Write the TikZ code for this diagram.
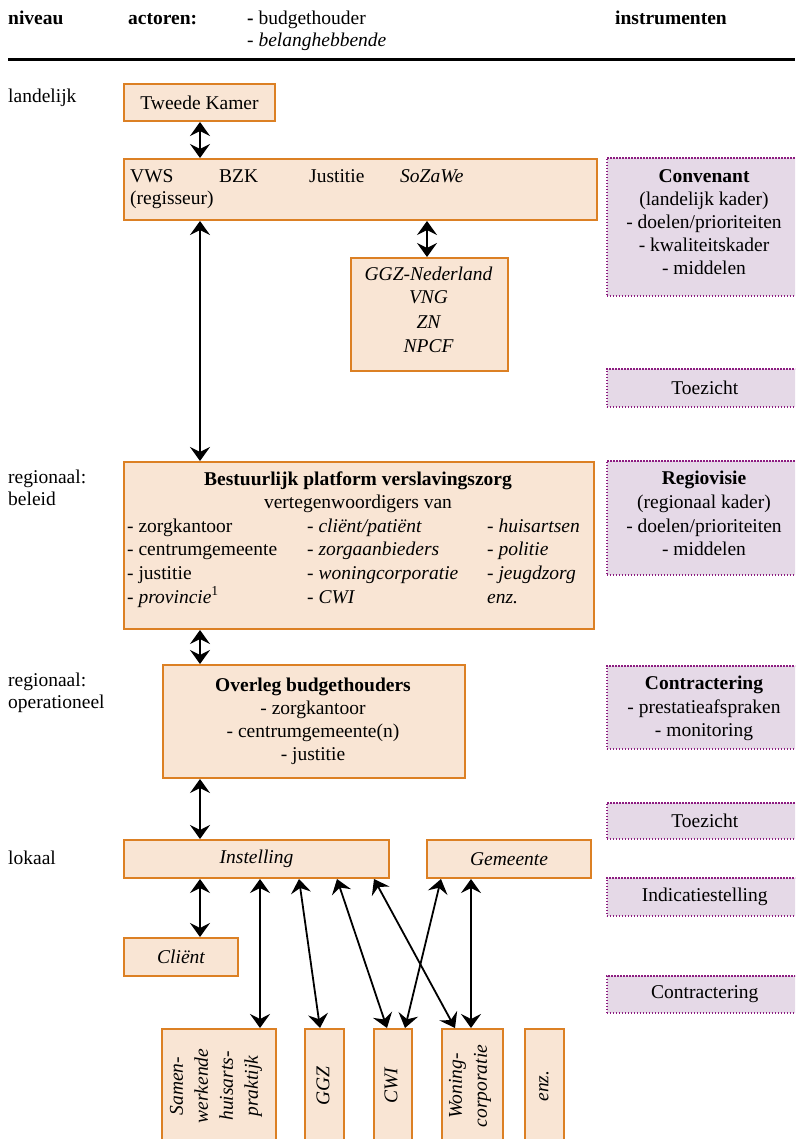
\documentclass[tikz,border=0pt]{standalone}
\usepackage{fontspec}
\setmainfont{Liberation Serif}
\usetikzlibrary{arrows.meta}
\definecolor{oline}{RGB}{220,128,36}
\definecolor{ofill}{RGB}{249,229,212}
\definecolor{pline}{RGB}{140,28,128}
\definecolor{pfill}{RGB}{229,217,231}
\begin{document}
\begin{tikzpicture}[x=1pt,y=-1pt,
 every node/.style={font=\fontsize{19.5}{23}\selectfont, inner sep=0pt},
 obox/.style={draw=oline, fill=ofill, line width=2pt, anchor=north west, inner sep=0pt},
 pbox/.style={draw=pline, fill=pfill, line width=1.6pt, dash pattern=on 1.6pt off 1.4pt, anchor=north west},
 txt/.style={anchor=base west},
 ctxt/.style={anchor=base},
 rtxt/.style={rotate=90, align=center, font=\itshape\fontsize{19.5}{25}\selectfont},
 dbl/.style={{Stealth[length=14pt,width=20pt,inset=5pt]}-{Stealth[length=14pt,width=20pt,inset=5pt]}, line width=1.8pt},
]
\useasboundingbox (0,0) rectangle (795,1139);
\clip (0,0) rectangle (795,1139);
\fill[white] (0,0) rectangle (795,1139);

% header
\node[txt] (h1) at (8,25) {\bfseries niveau};
\node[txt] (h2) at (128,25) {\bfseries actoren:};
\node[txt] (h3) at (247,25) {\textbf{-} budgethouder};
\node[txt] (h4) at (247,47) {\itshape - belanghebbende};
\node[txt] (h5) at (615,25) {\bfseries instrumenten};
\draw[line width=3pt] (8,60) -- (795,60);

% level labels
\node[txt] (l1) at (8,103) {landelijk};
\node[txt] (l2) at (8,483) {regionaal:};
\node[txt] (l3) at (8,505) {beleid};
\node[txt] (l4) at (8,686) {regionaal:};
\node[txt] (l5) at (8,708) {operationeel};
\node[txt] (l6) at (8,864) {lokaal};

% actor boxes
\node[obox, minimum width=151pt, minimum height=37pt] (tk) at (123,83) {Tweede Kamer};
\node[obox, minimum width=473pt, minimum height=61pt] (vws) at (123,158) {};
\node[obox, minimum width=157pt, minimum height=113pt] (ggz) at (350,257) {};
\node[obox, minimum width=470pt, minimum height=167pt] (bp) at (123,461) {};
\node[obox, minimum width=302pt, minimum height=113pt] (ob) at (162,664) {};
\node[obox, minimum width=265pt, minimum height=38pt] (inst) at (123,839) {\itshape Instelling};
\node[obox, minimum width=164pt, minimum height=38pt] (gem) at (426,839) {\itshape Gemeente};
\node[obox, minimum width=114pt, minimum height=38pt] (cli) at (123,937) {\itshape Cliënt};
\node[obox, minimum width=114pt, minimum height=130pt] (sam) at (161,1028) {};
\node[obox, minimum width=39pt, minimum height=130pt] (ggzb) at (304,1028) {};
\node[obox, minimum width=38pt, minimum height=130pt] (cwi) at (373,1028) {};
\node[obox, minimum width=61pt, minimum height=130pt] (won) at (441,1028) {};
\node[obox, minimum width=39pt, minimum height=130pt] (enz) at (524,1028) {};

% instrument boxes
\node[pbox, minimum width=196pt, minimum height=138pt] (conv) at (606,157) {};
\node[pbox, minimum width=196pt, minimum height=38pt] (toe1) at (606,368) {Toezicht};
\node[pbox, minimum width=196pt, minimum height=114pt] (reg) at (606,460) {};
\node[pbox, minimum width=196pt, minimum height=83pt] (con) at (606,665) {};
\node[pbox, minimum width=196pt, minimum height=36pt] (toe2) at (606,802) {Toezicht};
\node[pbox, minimum width=196pt, minimum height=38pt] (ind) at (606,877) {Indicatiestelling};
\node[pbox, minimum width=196pt, minimum height=37pt] (con2) at (606,975) {Contractering};

% VWS box text
\node[txt] (v1) at (130,183) {VWS};
\node[txt] (v2) at (219,183) {BZK};
\node[txt] (v3) at (309,183) {Justitie};
\node[txt] (v4) at (400,183) {\itshape SoZaWe};
\node[txt] (v5) at (130,205) {(regisseur)};

% GGZ box text
\node[ctxt] (g1) at (428.5,280) {\itshape GGZ-Nederland};
\node[ctxt] (g2) at (428.5,304) {\itshape VNG};
\node[ctxt] (g3) at (428.5,328) {\itshape ZN};
\node[ctxt] (g4) at (428.5,352) {\itshape NPCF};

% Bestuurlijk platform text
\node[ctxt] (b0) at (358,485) {\bfseries Bestuurlijk platform verslavingszorg};
\node[ctxt] (b1) at (358,508) {vertegenwoordigers van};
\node[txt] (b11) at (127,532) {- zorgkantoor};
\node[txt] (b12) at (127,555) {- centrumgemeente};
\node[txt] (b13) at (127,579) {- justitie};
\node[txt] (b14) at (127,603) {\itshape - provincie\textsuperscript{\upshape 1}};
\node[txt] (b21) at (307,532) {\itshape - cliënt/patiënt};
\node[txt] (b22) at (307,555) {\itshape - zorgaanbieders};
\node[txt] (b23) at (307,579) {\itshape - woningcorporatie};
\node[txt] (b24) at (307,603) {\itshape - CWI};
\node[txt] (b31) at (487,532) {\itshape - huisartsen};
\node[txt] (b32) at (487,555) {\itshape - politie};
\node[txt] (b33) at (487,579) {\itshape - jeugdzorg};
\node[txt] (b34) at (487,603) {\itshape enz.};

% Overleg budgethouders text
\node[ctxt] (o0) at (313,691) {\bfseries Overleg budgethouders};
\node[ctxt] (o1) at (313,714) {- zorgkantoor};
\node[ctxt] (o2) at (313,737) {- centrumgemeente(n)};
\node[ctxt] (o3) at (313,760) {- justitie};

% instrument texts
\node[ctxt] (c0) at (704,183) {\bfseries Convenant};
\node[ctxt] (c1) at (704,206) {(landelijk kader)};
\node[ctxt] (c2) at (704,229) {- doelen/prioriteiten};
\node[ctxt] (c3) at (704,252) {- kwaliteitskader};
\node[ctxt] (c4) at (704,275) {- middelen};
\node[ctxt] (r0) at (704,484) {\bfseries Regiovisie};
\node[ctxt] (r1) at (704,508) {(regionaal kader)};
\node[ctxt] (r2) at (704,532) {- doelen/prioriteiten};
\node[ctxt] (r3) at (704,555) {- middelen};
\node[ctxt] (k0) at (704,689) {\bfseries Contractering};
\node[ctxt] (k1) at (704,713) {- prestatieafspraken};
\node[ctxt] (k2) at (704,736) {- monitoring};

% rotated bottom texts
\node[rtxt] (s1) at (216,1086) {Samen-\\werkende\\huisarts-\\praktijk};
\node[rtxt] (s2) at (323,1086) {GGZ};
\node[rtxt] (s3) at (391,1086) {CWI};
\node[rtxt] (s4) at (470,1086) {Woning-\\corporatie};
\node[rtxt] (s5) at (544,1086) {enz.};

% x positions for connectors
\foreach \x in {200,260,299,320,337,374,387,405,427,441,455,471}
  \coordinate (c\x) at (\x,0);

% connectors
\draw[dbl] (tk.south -| c200) -- (vws.north -| c200);
\draw[dbl] (vws.south -| c200) -- (bp.north -| c200);
\draw[dbl] (vws.south -| c427) -- (ggz.north -| c427);
\draw[dbl] (bp.south -| c200) -- (ob.north -| c200);
\draw[dbl] (ob.south -| c200) -- (inst.north -| c200);
\draw[dbl] (inst.south -| c200) -- (cli.north -| c200);
\draw[dbl] (inst.south -| c260) -- (sam.north -| c260);
\draw[dbl] (inst.south -| c299) -- (ggzb.north -| c320);
\draw[dbl] (inst.south -| c337) -- (cwi.north -| c387);
\draw[dbl] (inst.south -| c374) -- (won.north -| c455);
\draw[dbl] (gem.south -| c441) -- (cwi.north -| c405);
\draw[dbl] (gem.south -| c471) -- (won.north -| c471);
\end{tikzpicture}
\end{document}
